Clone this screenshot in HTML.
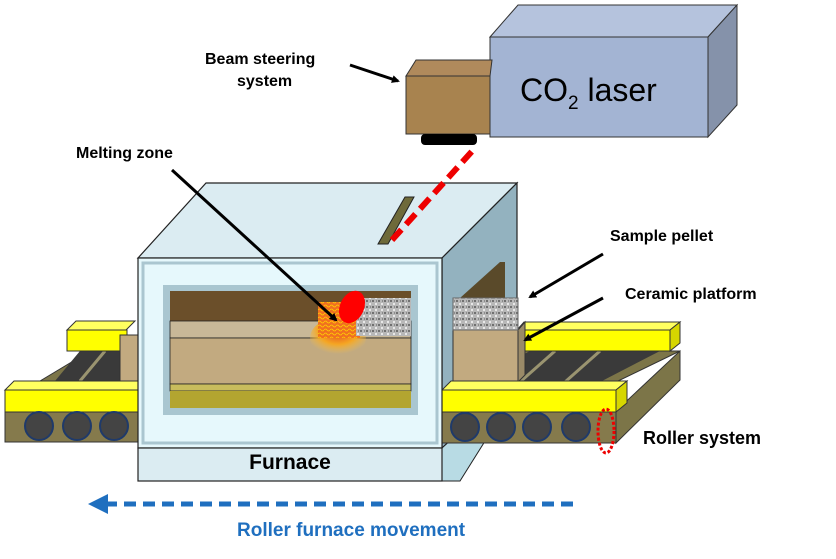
<!DOCTYPE html>
<html><head><style>
body{margin:0;background:#fff;}
svg text{font-family:"Liberation Sans",Arial,sans-serif;font-weight:bold;}
</style></head><body>
<svg width="836" height="554" viewBox="0 0 836 554" xmlns="http://www.w3.org/2000/svg">
<defs>
<marker id="ah" markerWidth="8" markerHeight="8" refX="6" refY="4" orient="auto" markerUnits="userSpaceOnUse"><path d="M0,0 L8,4 L0,8 z" fill="#000"/></marker>
<radialGradient id="glow" cx="0.5" cy="0.3" r="0.6"><stop offset="0" stop-color="#e23a1a"/><stop offset="0.6" stop-color="#f5a623"/><stop offset="1" stop-color="#f5c04a" stop-opacity="0"/></radialGradient>
<pattern id="gran" width="6" height="6" patternUnits="userSpaceOnUse"><rect width="6" height="6" fill="#b8b8b8"/><rect x="0" y="0" width="2" height="2" fill="#707070"/><rect x="3" y="3" width="2" height="2" fill="#e8e8e8"/><rect x="4" y="0" width="1" height="2" fill="#8a8a8a"/></pattern>
<pattern id="lava" width="6" height="4" patternUnits="userSpaceOnUse"><rect width="6" height="4" fill="#f07020"/><path d="M0,2 Q1.5,0 3,2 T6,2" stroke="#ffd000" fill="none" stroke-width="0.8"/></pattern>
</defs>

<!-- Laser -->
<polygon points="490,37 518,5 737,5 708,37" fill="#b5c3dd" stroke="#333" stroke-width="1"/>
<polygon points="708,37 737,5 737,105 708,137" fill="#8592aa" stroke="#333" stroke-width="1"/>
<rect x="490" y="37" width="218" height="100" fill="#a3b4d3" stroke="#333" stroke-width="1"/>
<text x="520" y="101" font-size="32" style="font-weight:normal">CO<tspan font-size="19" dy="8">2</tspan><tspan dy="-8"> laser</tspan></text>

<!-- Beam steering box -->
<polygon points="406,76 416,60 492,60 490,76" fill="#b08a5c" stroke="#333" stroke-width="1"/>
<rect x="406" y="76" width="84" height="58" fill="#a8834f" stroke="#333" stroke-width="1"/>
<rect x="421" y="134" width="56" height="11" rx="4" fill="#000"/>
<text x="205" y="64" font-size="16">Beam steering</text>
<text x="237" y="86" font-size="16">system</text>
<line x1="350" y1="65" x2="398" y2="81" stroke="#000" stroke-width="3" marker-end="url(#ah)"/>

<!-- Conveyor right -->
<polygon points="616,443 680,380 680,351 616,411" fill="#7c7548" stroke="#333"/>
<polygon points="442,382 505,351 680,351 616,382" fill="#7c7548" stroke="#333"/>
<polygon points="470,382 530,351 660,351 600,382" fill="#3a3a3a"/>
<line x1="520" y1="382" x2="555" y2="351" stroke="#9a9470" stroke-width="3"/>
<line x1="565" y1="382" x2="600" y2="351" stroke="#9a9470" stroke-width="3"/>
<polygon points="517,330 524,322 680,322 670,330" fill="#ffff60" stroke="#333"/>
<rect x="517" y="330" width="153" height="21" fill="#ffff00" stroke="#333"/>
<polygon points="670,330 680,322 680,343 670,351" fill="#d6d600" stroke="#333"/>
<!-- Conveyor left -->
<polygon points="40,381 90,351 120,351 120,381" fill="#7c7548" stroke="#333"/>
<polygon points="55,381 80,351 120,351 120,381" fill="#3a3a3a"/>
<line x1="80" y1="381" x2="105" y2="351" stroke="#9a9470" stroke-width="3"/>
<polygon points="67,330 76,321 135,321 126,330" fill="#ffff60" stroke="#333"/>
<rect x="67" y="330" width="60" height="21" fill="#ffff00" stroke="#333"/>

<!-- Furnace top and side -->
<polygon points="138,258 206,183 517,183 442,258" fill="#dbecf2" stroke="#222" stroke-width="1.2"/>
<polygon points="442,258 517,183 517,380 442,448" fill="#93b2bf" stroke="#222" stroke-width="1.2"/>
<polygon points="460,298 500,262 505,262 505,300 460,300" fill="#5a4a2a"/>
<polygon points="442,448 517,380 517,390 460,481 442,481" fill="#b8dbe4" stroke="#222"/>
<!-- slot -->
<polygon points="378,244 405,197 414,197 388,244" fill="#6e6a3a" stroke="#222"/>
<line x1="392" y1="240" x2="475" y2="148" stroke="#e00" stroke-width="6" stroke-dasharray="14,7"/>

<!-- right platform outside -->
<rect x="453" y="330" width="65" height="52" fill="#c2aa80" stroke="#333"/>
<polygon points="518,330 525,322 525,375 518,382" fill="#9a8a68" stroke="#333"/>
<rect x="453" y="298" width="65" height="32" fill="url(#gran)" stroke="#666"/>
<rect x="120" y="335" width="20" height="47" fill="#c2aa80" stroke="#333"/>

<!-- Front yellow bars and bases -->
<polygon points="5,390 14,381 138,381 138,390" fill="#ffff60" stroke="#333"/>
<rect x="5" y="390" width="133" height="22" fill="#ffff00" stroke="#333"/>
<rect x="5" y="412" width="133" height="30" fill="#857a4c" stroke="#333"/>
<polygon points="442,390 451,381 627,381 616,390" fill="#ffff60" stroke="#333"/>
<rect x="442" y="390" width="174" height="22" fill="#ffff00" stroke="#333"/>
<polygon points="616,390 627,381 627,403 616,412" fill="#d6d600" stroke="#333"/>
<rect x="442" y="412" width="174" height="31" fill="#857a4c" stroke="#333"/>
<g fill="#444" stroke="#1f3a6a" stroke-width="2">
<circle cx="39" cy="426" r="14"/><circle cx="77" cy="426" r="14"/><circle cx="114" cy="426" r="14"/>
<circle cx="465" cy="427" r="14"/><circle cx="501" cy="427" r="14"/><circle cx="537" cy="427" r="14"/><circle cx="576" cy="427" r="14"/>
</g>
<ellipse cx="606" cy="431" rx="8" ry="22" fill="none" stroke="#e00" stroke-width="3" stroke-dasharray="3,2"/>

<!-- Furnace front frame -->
<rect x="138" y="258" width="304" height="190" fill="#e6f8fc" stroke="#222" stroke-width="1.2"/>
<rect x="143" y="263" width="294" height="180" fill="none" stroke="#aac6d0" stroke-width="3"/>
<rect x="163" y="285" width="255" height="130" fill="#a9c6d0"/>
<rect x="170" y="291" width="241" height="30" fill="#6b4f2a"/>
<rect x="170" y="321" width="241" height="17" fill="#c8b898" stroke="#222" stroke-width="0.8"/>
<rect x="170" y="338" width="241" height="46" fill="#c2aa80" stroke="#222" stroke-width="0.8"/>
<rect x="170" y="384" width="241" height="7" fill="#c8bc5c" stroke="#222" stroke-width="0.8"/>
<rect x="170" y="391" width="241" height="17" fill="#b3a530"/>
<ellipse cx="338" cy="338" rx="28" ry="20" fill="url(#glow)"/>
<rect x="318" y="302" width="42" height="36" fill="url(#lava)"/>
<rect x="356" y="298" width="55" height="38" fill="url(#gran)"/>
<ellipse cx="352" cy="307" rx="12" ry="17" fill="#f00" transform="rotate(25 352 307)"/>
<!-- base -->
<rect x="138" y="448" width="304" height="33" fill="#dbecf2" stroke="#222" stroke-width="1.2"/>
<text x="290" y="469" font-size="21" text-anchor="middle">Furnace</text>

<!-- labels -->
<text x="76" y="158" font-size="16">Melting zone</text>
<line x1="172" y1="170" x2="336" y2="320" stroke="#000" stroke-width="3" marker-end="url(#ah)"/>
<text x="610" y="241" font-size="16">Sample pellet</text>
<line x1="603" y1="254" x2="530" y2="297" stroke="#000" stroke-width="3" marker-end="url(#ah)"/>
<text x="625" y="299" font-size="16">Ceramic platform</text>
<line x1="603" y1="298" x2="525" y2="340" stroke="#000" stroke-width="3" marker-end="url(#ah)"/>
<text x="643" y="444" font-size="18">Roller  system</text>

<!-- movement -->
<line x1="105" y1="504" x2="580" y2="504" stroke="#1f6fbf" stroke-width="5" stroke-dasharray="12,7"/>
<polygon points="88,504 108,494 108,514" fill="#1f6fbf"/>
<text x="237" y="536" font-size="19" fill="#1f6fbf">Roller furnace movement</text>
</svg>
</body></html>
